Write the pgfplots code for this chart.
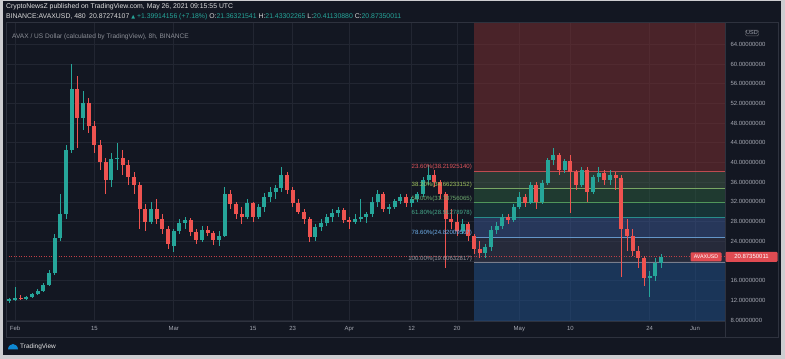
\documentclass[border=0pt]{standalone}
\usepackage{fontspec}
\setmainfont{Liberation Sans}
\newfontfamily\djv{DejaVu Sans}
\usepackage{pgfplots}
\pgfplotsset{compat=1.18}
\usepackage{pgfplotstable}

\definecolor{outerc}{RGB}{205,205,208}
\definecolor{bgc}{RGB}{19,23,34}
\definecolor{panelc}{RGB}{46,50,62}
\definecolor{gridc}{RGB}{34,38,50}
\definecolor{tickc}{RGB}{165,168,178}
\definecolor{upc}{RGB}{38,166,154}
\definecolor{dnc}{RGB}{239,83,80}
\definecolor{bred}{RGB}{129,47,48}
\definecolor{bg1}{RGB}{67,93,72}
\definecolor{bg2}{RGB}{43,93,62}
\definecolor{bg3}{RGB}{27,81,76}
\definecolor{bg4}{RGB}{59,87,146}
\definecolor{bg5}{RGB}{57,61,82}
\definecolor{bg6}{RGB}{33,83,142}
\definecolor{l1}{RGB}{190,75,80}
\definecolor{l2}{RGB}{120,165,100}
\definecolor{l3}{RGB}{80,150,90}
\definecolor{l4}{RGB}{40,140,140}
\definecolor{l5}{RGB}{100,150,200}
\definecolor{l6}{RGB}{120,125,140}
\definecolor{t1}{RGB}{225,85,92}
\definecolor{t2}{RGB}{160,195,95}
\definecolor{t3}{RGB}{110,170,110}
\definecolor{t4}{RGB}{70,170,140}
\definecolor{t5}{RGB}{110,175,235}
\definecolor{t6}{RGB}{150,153,162}
\definecolor{pricec}{RGB}{225,75,82}

\pgfplotstableread{
d o h l c
-1 11.8 12.4 11.4 12.2
0 12.2 14.8 11.9 12.5
1 12.5 13.0 12.1 12.4
2 12.4 12.9 12.0 12.7
3 12.7 13.5 12.5 13.3
4 13.3 14.2 13.0 13.9
5 13.9 15.6 13.6 15.2
6 15.2 18.2 15.0 17.6
7 17.6 25.5 17.2 24.6
8 24.6 33.5 24.0 29.5
9 29.5 43.5 28.5 42.5
10 42.5 60.1 42.0 55.0
11 55.0 57.5 43.0 49.0
12 49.0 54.5 46.5 52.0
13 52.0 53.0 46.0 47.5
14 47.5 48.5 42.0 43.5
15 43.5 44.5 38.5 40.0
16 40.0 41.0 33.5 36.5
17 36.5 42.0 35.0 40.8
18 40.8 44.0 38.5 41.0
19 41.0 42.5 37.5 39.5
20 39.5 40.5 35.5 37.0
21 37.0 38.0 33.5 35.5
22 35.5 36.0 26.5 30.5
23 30.5 31.5 26.0 28.0
24 28.0 32.0 27.5 30.5
25 30.5 32.5 27.5 28.5
26 28.5 29.5 25.5 26.5
27 26.5 27.0 22.5 23.5
28 23.0 26.5 21.8 26.0
29 26.0 28.5 25.5 27.7
30 27.7 29.0 26.5 28.3
31 28.3 28.8 25.0 25.8
32 25.8 26.5 23.5 24.2
33 24.2 27.0 23.8 26.3
34 26.3 27.0 25.0 25.6
35 25.6 26.0 23.2 24.2
36 24.2 26.0 23.0 25.0
37 25.0 35.0 24.8 33.5
38 33.5 34.5 30.5 31.5
39 31.5 32.0 28.5 29.5
40 29.5 31.0 27.5 29.0
41 29.0 32.5 28.5 31.7
42 31.7 32.0 28.0 29.0
43 29.0 31.5 28.5 31.0
44 31.0 33.8 30.0 33.0
45 33.0 35.0 32.0 34.0
46 34.0 35.5 32.5 34.8
47 34.8 39.0 34.0 37.5
48 37.5 38.0 33.5 34.4
49 34.4 35.0 31.0 31.8
50 31.8 32.5 29.5 30.0
51 30.0 30.5 27.5 28.5
52 28.5 29.0 23.8 24.8
53 24.8 27.5 24.0 26.9
54 26.9 28.5 26.0 27.8
55 27.8 29.5 27.0 29.0
56 29.0 30.5 28.0 29.7
57 29.7 31.0 29.0 30.3
58 30.3 30.8 27.8 28.3
59 28.3 29.0 26.5 28.0
60 28.0 29.5 27.5 28.6
61 28.6 32.5 28.0 29.0
62 29.0 30.0 27.8 29.5
63 29.5 33.0 29.0 32.0
64 32.0 34.5 31.0 33.5
65 33.5 34.0 30.0 30.5
66 30.5 31.5 29.5 31.0
67 31.0 32.5 30.5 32.2
68 32.2 33.5 31.5 33.0
69 33.0 33.5 31.0 31.8
70 31.8 33.0 31.0 32.5
71 32.5 34.0 32.0 33.5
72 33.5 37.0 33.0 36.5
73 36.5 39.5 35.5 37.5
74 37.5 38.5 35.0 36.0
75 36.0 36.5 32.5 33.5
76 33.5 34.0 18.5 28.5
77 28.5 30.5 26.5 28.0
78 28.0 29.5 25.0 26.0
79 26.0 28.5 25.5 27.5
80 27.5 28.0 24.0 25.0
81 25.0 25.5 21.5 22.5
82 22.5 24.0 20.5 21.6
83 21.6 23.5 20.5 22.8
84 22.8 27.0 22.0 26.3
85 26.3 28.0 25.5 27.0
86 27.0 29.5 26.5 28.9
87 28.9 29.5 27.5 28.3
88 28.3 31.5 28.0 31.0
89 31.0 34.0 30.5 33.0
90 33.0 33.5 31.0 31.7
91 31.7 36.0 31.5 35.5
92 35.5 36.0 30.5 32.0
93 32.0 36.5 31.5 35.8
94 35.8 41.0 35.5 40.5
95 40.5 43.0 39.5 41.5
96 41.5 42.0 37.5 38.4
97 38.4 40.8 37.8 40.2
98 40.2 41.5 29.8 38.0
99 38.0 38.5 34.5 35.5
100 35.5 39.0 35.0 38.4
101 38.4 39.0 32.0 34.0
102 34.0 37.5 33.5 37.0
103 37.0 39.0 36.0 37.8
104 37.8 38.5 35.5 36.5
105 36.5 38.5 35.5 37.5
106 37.5 38.0 34.5 36.8
107 36.8 37.5 16.7 26.5
108 26.5 28.5 22.0 25.0
109 25.0 26.5 21.0 22.0
110 22.0 23.0 18.5 20.5
111 20.5 21.0 15.0 16.5
112 16.5 18.0 12.7 17.0
113 17.0 20.5 16.0 19.5
114 19.5 21.5 18.5 20.87
}\candles

\begin{document}
\begin{tikzpicture}
\useasboundingbox (0,0) rectangle (785bp,359bp);
\fill[outerc] (0,0) rectangle (785bp,359bp);
\fill[bgc] (3bp,4bp) rectangle (781bp,358bp);
\begin{axis}[
  at={(6bp,38bp)}, anchor=south west, scale only axis,
  width=719bp, height=299bp,
  xmin=-1.588, xmax=125.29, ymin=7.8, ymax=68.53,
  axis background/.style={fill=bgc},
  axis line style={draw=panelc, line width=0.8bp},
  xtick={0,14,28,42,49,59,70,78,89,98,112,120},
  xticklabels={Feb,15,Mar,15,23,Apr,12,20,May,10,24,Jun},
  ytick={8,12,...,64},
  yticklabels={8.00000000,12.00000000,16.00000000,{},24.00000000,28.00000000,32.00000000,36.00000000,40.00000000,44.00000000,48.00000000,52.00000000,56.00000000,60.00000000,64.00000000},
  yticklabel pos=right,
  grid=major, major grid style={draw=gridc, line width=0.6bp},
  major tick length=0pt,
  xticklabel style={font=\fontsize{6}{7}\selectfont, text=tickc, yshift=-2bp},
  yticklabel style={font=\fontsize{6}{7}\selectfont, text=tickc, anchor=west, xshift=2bp},
]
% Fibonacci bands
\addplot[forget plot, draw=none, fill=bred, fill opacity=0.5] coordinates {(81,38.219) (125.29,38.219) (125.29,68.53) (81,68.53)};
\addplot[forget plot, draw=none, fill=bg1, fill opacity=0.5] coordinates {(81,34.662) (125.29,34.662) (125.29,38.219) (81,38.219)};
\addplot[forget plot, draw=none, fill=bg2, fill opacity=0.5] coordinates {(81,31.788) (125.29,31.788) (125.29,34.662) (81,34.662)};
\addplot[forget plot, draw=none, fill=bg3, fill opacity=0.5] coordinates {(81,28.913) (125.29,28.913) (125.29,31.788) (81,31.788)};
\addplot[forget plot, draw=none, fill=bg4, fill opacity=0.5] coordinates {(81,24.820) (125.29,24.820) (125.29,28.913) (81,28.913)};
\addplot[forget plot, draw=none, fill=bg5, fill opacity=0.5] coordinates {(81,19.606) (125.29,19.606) (125.29,24.820) (81,24.820)};
\addplot[forget plot, draw=none, fill=bg6, fill opacity=0.5] coordinates {(81,7.8) (125.29,7.8) (125.29,19.606) (81,19.606)};
% Fibonacci lines
\addplot[forget plot, l1, line width=0.8bp] coordinates {(81,38.219) (125.29,38.219)};
\addplot[forget plot, l2, line width=0.8bp] coordinates {(81,34.662) (125.29,34.662)};
\addplot[forget plot, l3, line width=0.8bp] coordinates {(81,31.788) (125.29,31.788)};
\addplot[forget plot, l4, line width=0.8bp] coordinates {(81,28.913) (125.29,28.913)};
\addplot[forget plot, l5, line width=0.8bp] coordinates {(81,24.820) (125.29,24.820)};
\addplot[forget plot, l6, line width=0.8bp] coordinates {(81,19.606) (125.29,19.606)};
% current price line
\addplot[forget plot, pricec!85!black, line width=0.7bp, dash pattern=on 1bp off 1.5bp] coordinates {(-1.588,20.8735) (125.29,20.8735)};
% wicks
\addplot[forget plot, draw=none, mark=none,
  error bars/.cd, y dir=both, y explicit, error mark=none,
  error bar style={draw=upc, line width=0.7bp}]
  table[x=d, y expr={0.5*(\thisrow{h}+\thisrow{l})},
        y error expr={(\thisrow{c}>=\thisrow{o}) ? 0.5*(\thisrow{h}-\thisrow{l}) : 0}] {\candles};
\addplot[forget plot, draw=none, mark=none,
  error bars/.cd, y dir=both, y explicit, error mark=none,
  error bar style={draw=dnc, line width=0.7bp}]
  table[x=d, y expr={0.5*(\thisrow{h}+\thisrow{l})},
        y error expr={(\thisrow{c}<\thisrow{o}) ? 0.5*(\thisrow{h}-\thisrow{l}) : 0}] {\candles};
% bodies
\addplot[forget plot, draw=none, mark=none,
  error bars/.cd, y dir=both, y explicit, error mark=none,
  error bar style={draw=upc, line width=4bp}]
  table[x=d, y expr={0.5*(\thisrow{o}+\thisrow{c})},
        y error expr={(\thisrow{c}>=\thisrow{o}) ? 0.5*(\thisrow{c}-\thisrow{o}) : 0}] {\candles};
\addplot[forget plot, draw=none, mark=none,
  error bars/.cd, y dir=both, y explicit, error mark=none,
  error bar style={draw=dnc, line width=4bp}]
  table[x=d, y expr={0.5*(\thisrow{o}+\thisrow{c})},
        y error expr={(\thisrow{c}<\thisrow{o}) ? 0.5*(\thisrow{o}-\thisrow{c}) : 0}] {\candles};
% fib labels
\begin{scope}[every node/.style={anchor=south east, inner sep=0.8bp, font=\fontsize{6.1}{7}\selectfont}]
\node[text=t1] at (axis cs:80.8,38.219) {23.60\%(38.21925140)};
\node[text=t2] at (axis cs:80.8,34.662) {38.20\%(34.66233152)};
\node[text=t3] at (axis cs:80.8,31.788) {50.00\%(31.78756065)};
\node[text=t4] at (axis cs:80.8,28.913) {61.80\%(28.91278978)};
\node[text=t5] at (axis cs:80.8,24.820) {78.60\%(24.82009567)};
\node[text=t6] at (axis cs:80.8,19.606) {100.00\%(19.60632817)};
\end{scope}
\end{axis}
% panel borders
\draw[panelc, line width=0.8bp] (6bp,22bp) rectangle (778bp,337bp);
\draw[panelc, line width=0.8bp] (725bp,22bp) -- (725bp,38bp);
% header
\node[anchor=west, inner sep=0, font=\fontsize{6.9}{8}\selectfont, text=white!88!black] at (6bp,352.5bp)
  {CryptoNewsZ published on TradingView.com, May 26, 2021 09:15:55 UTC};
\node[anchor=west, inner sep=0, font=\fontsize{6.9}{8}\selectfont, text=white!85!black] at (6bp,342.5bp)
  {BINANCE:AVAXUSD, 480\enspace 20.87274107 \textcolor{upc}{{\djv\fontsize{5}{6}\selectfont ▲} +1.39914156 (+7.18\%)} O:\textcolor{upc}{21.36321541} H:\textcolor{upc}{21.43302265} L:\textcolor{upc}{20.41130880} C:\textcolor{upc}{20.87350011}};
\node[anchor=west, inner sep=0, font=\fontsize{6.6}{7}\selectfont, text=tickc!85!black] at (12bp,322bp)
  {AVAX / US Dollar (calculated by TradingView), 8h, BINANCE};
% USD
\node[draw=tickc!60!black, rounded corners=1.5bp, inner sep=1bp, font=\fontsize{5.5}{6}\selectfont, text=tickc] at (752bp,326bp) {USD};
% price labels
\node[fill=pricec, rounded corners=1bp, inner sep=1.2bp, minimum height=9bp, minimum width=31bp, font=\fontsize{5.3}{6}\selectfont, text=white] at (706bp,102.2bp) {AVAXUSD};
\node[fill=pricec, rounded corners=1bp, inner sep=1.2bp, minimum height=10bp, minimum width=52bp, font=\fontsize{6}{7}\selectfont, text=white] at (751.5bp,102.2bp) {20.87350011};
% footer
\fill[cyan!70!blue] (8bp,9.5bp) .. controls (8bp,13bp) and (11bp,15bp) .. (13bp,15bp) .. controls (15bp,15bp) and (18bp,13bp) .. (18bp,9.5bp) -- cycle;
\node[anchor=west, inner sep=0, font=\fontsize{6.5}{7}\selectfont, text=white!90!black] at (20bp,12bp) {TradingView};
\end{tikzpicture}
\end{document}
